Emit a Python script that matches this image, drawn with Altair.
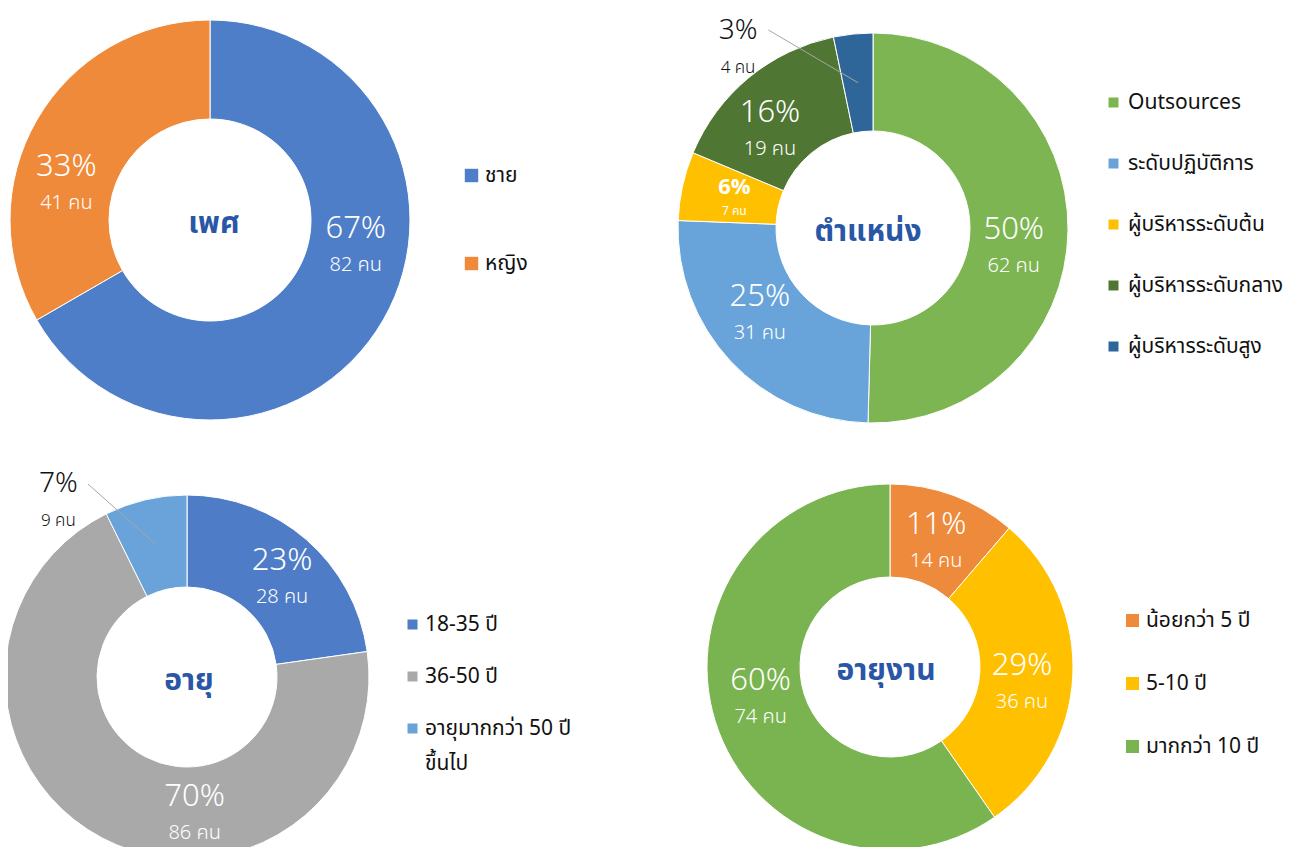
import math
import altair as alt
import pandas as pd

# ---------------- data ----------------
gender_cats = ["ชาย", "หญิง"]
gender_vals = [82, 41]
gender_pct = ["67%", "33%"]

position_cats = ["Outsources", "ระดับปฏิบัติการ", "ผู้บริหารระดับต้น",
                 "ผู้บริหารระดับกลาง", "ผู้บริหารระดับสูง"]
position_vals = [62, 31, 7, 19, 4]
position_pct = ["50%", "25%", "6%", "16%", "3%"]

age_cats = ["18-35 ปี", "36-50 ปี", "อายุมากกว่า 50 ปี ขึ้นไป"]
age_vals = [28, 86, 9]
age_pct = ["23%", "70%", "7%"]

tenure_cats = ["น้อยกว่า 5 ปี", "5-10 ปี", "มากกว่า 10 ปี"]
tenure_vals = [14, 36, 74]
tenure_pct = ["11%", "29%", "60%"]

titles = ["เพศ", "ตำแหน่ง", "อายุ", "อายุงาน"]
unit = "คน"

# ---------------- styles ----------------
FONT = "Noto Sans Thai, Tahoma, Noto Sans, DejaVu Sans, sans-serif"
TITLE_COLOR = "#2A56A6"

gender_colors = ["#4F7EC8", "#EF8A3A"]
position_colors = ["#7DB552", "#68A4DA", "#FFC000", "#507634", "#2F6699"]
age_colors = ["#4E7CC7", "#A9A9A9", "#69A3D9"]
tenure_colors = ["#EE8A3B", "#FFC000", "#7AB450"]

# label angle nudges (degrees) relative to slice mid-angle
NUDGE = {"ชาย": -20, "หญิง": -16, "Outsources": 7, "ระดับปฏิบัติการ": 6,
         "ผู้บริหารระดับกลาง": -7, "ผู้บริหารระดับสูง": -31,
         "18-35 ปี": 3, "36-50 ปี": -31, "อายุมากกว่า 50 ปี ขึ้นไป": -23,
         "5-10 ปี": 4, "มากกว่า 10 ปี": 4}
KIND = {"ผู้บริหารระดับต้น": "small", "ผู้บริหารระดับสูง": "outside",
        "อายุมากกว่า 50 ปี ขึ้นไป": "outside"}

panels = [
    dict(cats=gender_cats, vals=gender_vals, pct=gender_pct, colors=gender_colors,
         title=titles[0], cx=202, cy=212, outer=200, inner=101, lab_r=148, out_r=225,
         tdx=4, leg=dict(x=453, y=157, sym=180, row=66, off=3)),
    dict(cats=position_cats, vals=position_vals, pct=position_pct, colors=position_colors,
         title=titles[1], cx=865, cy=220, outer=195, inner=97, lab_r=142, out_r=227,
         tdx=-5, leg=dict(x=1095, y=84, sym=100, row=39, off=4)),
    dict(cats=age_cats, vals=age_vals, pct=age_pct, colors=age_colors,
         title=titles[2], cx=179, cy=669, outer=182, inner=90, lab_r=137, out_r=220,
         tdx=2, leg=dict(x=394, y=606, sym=100, row=30, off=2)),
    dict(cats=tenure_cats, vals=tenure_vals, pct=tenure_pct, colors=tenure_colors,
         title=titles[3], cx=882, cy=659, outer=183, inner=90, lab_r=133, out_r=220,
         tdx=-4, leg=dict(x=1114, y=602, sym=169, row=41, off=3)),
]

TS = alt.Scale(domain=[0, 1], range=[0, 2 * math.pi])


def frame(p):
    total = sum(p["vals"])
    rows = []
    cum = 0
    for c, v, t in zip(p["cats"], p["vals"], p["pct"]):
        start = cum / total
        cum += v
        end = cum / total
        mid = (start + end) / 2
        lab = mid + NUDGE.get(c, 0) / 360.0
        rows.append(dict(category=c, value=v, start=start, end=end, mid=mid,
                         lab=lab, pct=t, count=f"{v} {unit}", kind=KIND.get(c, "in")))
    return pd.DataFrame(rows)


def polar_text(src, p, radius, size, color, dy, field, weight="normal"):
    return src.mark_text(radius=radius, fontSize=size, color=color, dy=dy,
                         font=FONT, fontWeight=weight).encode(
        theta=alt.Theta("lab:Q", scale=TS, stack=None), text=f"{field}:N",
        x=alt.value(p["cx"]), y=alt.value(p["cy"]))


layers = []
for p in panels:
    df = frame(p)
    base = alt.Chart(df)
    cx, cy = p["cx"], p["cy"]
    L = p["leg"]
    legend = alt.Legend(
        title=None, orient="none", legendX=L["x"], legendY=L["y"],
        symbolType="square", symbolSize=L["sym"], symbolStrokeWidth=0,
        labelFontSize=21, labelFont=FONT, labelColor="#111111",
        rowPadding=L["row"], labelLimit=400, labelOffset=L["off"], padding=0,
        labelExpr="datum.label == 'อายุมากกว่า 50 ปี ขึ้นไป' ? ['อายุมากกว่า 50 ปี', 'ขึ้นไป'] : datum.label",
    )
    arc = base.mark_arc(outerRadius=p["outer"], innerRadius=p["inner"],
                        stroke="white", strokeWidth=1).encode(
        theta=alt.Theta("start:Q", scale=TS, stack=None),
        theta2="end:Q",
        color=alt.Color("category:N", sort=p["cats"],
                        scale=alt.Scale(domain=p["cats"], range=p["colors"]),
                        legend=legend),
        x=alt.value(cx), y=alt.value(cy),
    )
    layers.append(arc)

    # inside labels
    ins = base.transform_filter(alt.datum.kind == "in")
    layers.append(polar_text(ins, p, p["lab_r"], 31, "white", -17, "pct", 300))
    layers.append(polar_text(ins, p, p["lab_r"], 20, "white", 19, "count", 300))

    # small labels
    sm = base.transform_filter(alt.datum.kind == "small")
    layers.append(polar_text(sm, p, p["lab_r"], 22, "white", -10, "pct", "bold"))
    layers.append(polar_text(sm, p, p["lab_r"], 12, "white", 14, "count"))

    # outside labels + leader lines
    out = base.transform_filter(alt.datum.kind == "outside")
    ring_mid = (p["outer"] + p["inner"]) / 2
    layers.append(out.transform_calculate(
        x1=f"{cx} + {p['out_r'] - 3} * sin(2*PI*(datum.lab + 9/360))",
        y1=f"{cy} - {p['out_r'] - 3} * cos(2*PI*(datum.lab + 9/360))",
        x2=f"{cx} + {ring_mid} * sin(2*PI*datum.mid)",
        y2=f"{cy} - {ring_mid} * cos(2*PI*datum.mid)",
    ).mark_rule(color="#A6A6A6", strokeWidth=1).encode(
        x=alt.X("x1:Q", scale=None, axis=None), y=alt.Y("y1:Q", scale=None, axis=None),
        x2="x2:Q", y2="y2:Q"))
    layers.append(polar_text(out, p, p["out_r"] - 2, 28, "#111111", -17, "pct", 300))
    layers.append(polar_text(out, p, p["out_r"] - 2, 17, "#111111", 20, "count", 300))

    # center title
    layers.append(alt.Chart(pd.DataFrame({"t": [p["title"]]})).mark_text(
        fontSize=30, fontWeight="bold", color=TITLE_COLOR, font=FONT, dy=4).encode(
        text="t:N", x=alt.value(cx + p["tdx"]), y=alt.value(cy)))

chart = alt.layer(*layers).resolve_scale(color="independent").properties(
    width=1287, height=839, padding=0,
    autosize=alt.AutoSizeParams(type="none"),
).configure(
    view=alt.ViewConfig(strokeWidth=0),
    style={"guide-label": {"lineHeight": 35}},
)

chart.save("out.html", embed_options={"renderer": "svg", "actions": False})
